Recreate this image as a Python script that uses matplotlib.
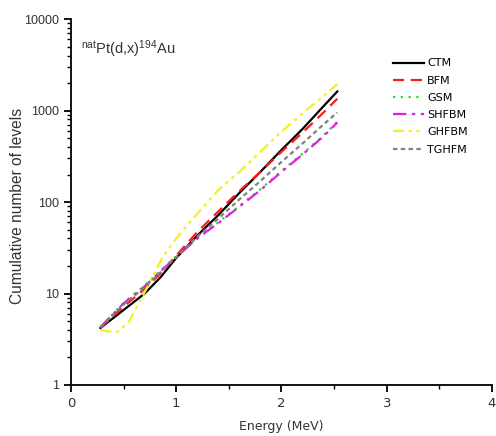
import numpy as np
import matplotlib
matplotlib.use('Agg')
import matplotlib.pyplot as plt

plt.rcParams['mathtext.default'] = 'regular'

# level density model curves
energy = [0.28, 0.5, 0.7, 0.85, 1.0, 1.2, 1.4, 1.6, 1.8, 2.0, 2.2, 2.4, 2.53]
ctm_n = [4.2, 6.6, 10, 15, 24.5, 43, 72, 126, 214, 372, 630, 1120, 1620]
bfm_n = [4.2, 7.2, 11.2, 16.6, 26, 47, 79, 132, 214, 355, 575, 955, 1350]
gsm_n = [4.3, 7.9, 12.2, 17.8, 25.5, 41, 60, 91, 138, 219, 338, 537, 758]
shfbm_n = [4.3, 7.8, 12, 17.4, 25, 40, 59, 89, 135, 214, 331, 525, 741]
tghfm_n = [4.3, 7.6, 11.7, 17, 25, 42, 66, 107, 170, 275, 437, 708, 955]

ghfbm_e = [0.28, 0.35, 0.45, 0.55, 0.66, 0.75, 0.87, 1.0, 1.16, 1.39, 1.6, 1.8, 2.0, 2.2, 2.4, 2.53]
ghfbm_n = [4.0, 3.85, 3.85, 4.9, 8.5, 13.2, 25, 40, 66, 132, 214, 355, 590, 933, 1445, 1950]

fig = plt.figure(figsize=(4.96, 4.36), dpi=100)
ax = fig.add_axes([0.143, 0.117, 0.849, 0.839])

ax.plot(energy, ctm_n, color='black', lw=1.6, ls='-', label='CTM')
ax.plot(energy, bfm_n, color='#ff1a1a', lw=1.6, ls=(0, (5, 3)), label='BFM')
ax.plot(energy, gsm_n, color='#22dd22', lw=1.6, ls=(0, (1, 2.5)), label='GSM')
ax.plot(energy, shfbm_n, color='#e020e0', lw=1.6, ls=(0, (6, 2.5, 1.5, 2.5)), label='SHFBM')
ax.plot(ghfbm_e, ghfbm_n, color='#f5f020', lw=1.6, ls=(0, (5, 2, 1.5, 2, 1.5, 2)), label='GHFBM')
ax.plot(energy, tghfm_n, color='#808080', lw=1.6, ls=(0, (2, 1.5)), label='TGHFM')

ax.set_yscale('log')
ax.set_ylim(1, 10000)
ax.set_xlim(0, 4)
ax.set_xticks([0, 1, 2, 3, 4])
ax.set_xticks([0.5, 1.5, 2.5, 3.5], minor=True)
ax.set_yticks([1, 10, 100, 1000, 10000])
ax.set_yticklabels(['1', '10', '100', '1000', '10000'], fontsize=9, family='Liberation Sans', color='#333333')
for t in ax.get_xticklabels():
    t.set_fontsize(9.5)
    t.set_color('#333333')

for s in ['top', 'right']:
    ax.spines[s].set_visible(False)
for s in ['left', 'bottom']:
    ax.spines[s].set_linewidth(1.3)
ax.tick_params(which='major', direction='out', length=5, width=1.3)
ax.tick_params(which='minor', direction='out', length=3, width=1)

ax.set_xlabel('Energy (MeV)', fontsize=9, color='#333333')
ax.xaxis.set_label_coords(0.5, -0.095)
ax.set_ylabel('Cumulative number of levels', fontsize=11.2, family='Liberation Sans', color='#333333')
ax.yaxis.set_label_coords(-0.108, 0.49)

ax.text(0.1, 4200, r'$^{nat}$Pt(d,x)$^{194}$Au', fontsize=10.5, family='Liberation Sans', color='#333333')

ax.legend(loc='upper left', bbox_to_anchor=(0.74, 0.92), frameon=False, fontsize=8,
          handlelength=2.8, handletextpad=0.3, labelspacing=0.65)

fig.savefig('out.png', dpi=100)
